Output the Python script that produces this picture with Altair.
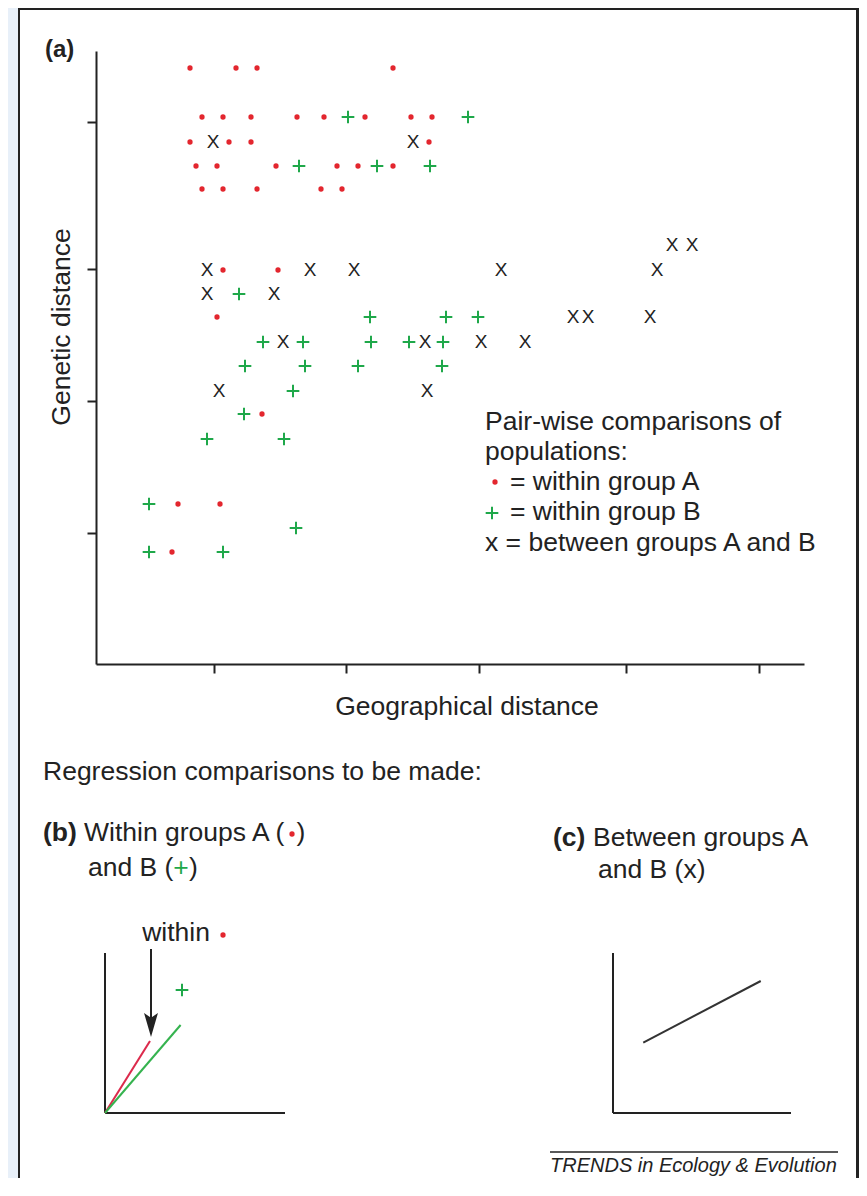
import altair as alt
import pandas as pd

# ---------------- data (arbitrary distance units) ----------------
# within group A (red dots)
red_geo = [94, 140, 161, 297,
           106, 127, 155, 201, 228, 269, 315, 336,
           94, 133, 155, 333,
           100, 121, 180, 241, 262, 297,
           106, 127, 161, 225, 246,
           127, 182, 121, 166, 82, 124, 76]
red_gen = [596, 596, 596, 596,
           547, 547, 547, 547, 547, 547, 547, 547,
           522, 522, 522, 522,
           498, 498, 498, 498, 498, 498,
           475, 475, 475, 475, 475,
           394, 394, 347, 250, 160, 160, 112]

# within group B (green plus)
green_geo = [252, 372, 203, 281, 334, 143, 274, 350, 382,
             167, 207, 275, 313, 347, 149, 209, 262, 346,
             197, 148, 111, 188, 53, 200, 53, 127]
green_gen = [547, 547, 498, 498, 498, 370, 347, 347, 347,
             322, 322, 322, 322, 322, 298, 298, 298, 298,
             273, 250, 225, 225, 160, 136, 112, 112]

# between groups A and B (x)
between_geo = [117, 317, 576, 596, 111, 214, 258, 405, 561,
               111, 178, 477, 492, 554, 187, 329, 385, 429, 123, 331]
between_gen = [522, 522, 419, 419, 394, 394, 394, 394, 394,
               370, 370, 347, 347, 347, 322, 322, 322, 322, 273, 273]

geo_ticks = [118, 250, 383, 530, 663]
gen_ticks = [131, 263, 395, 542]

# schematic regression panels (b) and (c)
panel_b_part = ["axis", "axis", "A", "B"]
panel_b_x0 = [0, 0, 0, 0]
panel_b_y0 = [0, 0, 0, 0]
panel_b_x1 = [10, 0, 2.5, 4.2]
panel_b_y1 = [0, 10, 4.5, 5.5]

panel_c_part = ["axis", "axis", "AB"]
panel_c_x0 = [0, 0, 1.7]
panel_c_y0 = [0, 0, 4.4]
panel_c_x1 = [10, 0, 8.3]
panel_c_y1 = [0, 10, 8.25]

# ---------------- styling ----------------
W, H = 708, 613
FONT = "Liberation Sans"
INK = "#222222"
RED = "#e3262e"
GREEN = "#1fa84a"
LINE_RED = "#dc2a4c"
LINE_GREEN = "#35b34f"
PLUS = "M-1,0L1,0M0,-1L0,1"
ARROW = "M0,1L-0.58,-1L0,-0.6L0.58,-1Z"
FS = 26.5
DOT = 28
EMPTY = alt.Data(values=[{}])

xs = alt.Scale(domain=[0, W], nice=False, zero=False)
ys = alt.Scale(domain=[0, H], nice=False, zero=False)

df_red = pd.DataFrame({"geo": red_geo, "gen": red_gen})
df_green = pd.DataFrame({"geo": green_geo, "gen": green_gen})
df_between = pd.DataFrame({"geo": between_geo, "gen": between_gen})

axis_common = dict(labels=False, grid=False, domainColor=INK, domainWidth=2,
                   tickColor=INK, tickWidth=2, tickSize=9)

red_layer = alt.Chart(df_red).mark_circle(size=DOT, color=RED, opacity=1).encode(
    x=alt.X("geo:Q", scale=xs, title=None,
            axis=alt.Axis(values=geo_ticks, **axis_common)),
    y=alt.Y("gen:Q", scale=ys, title=None,
            axis=alt.Axis(values=gen_ticks, **axis_common)),
)
green_layer = alt.Chart(df_green).mark_point(
    shape=PLUS, filled=False, strokeWidth=2, size=160, color=GREEN, opacity=1
).encode(
    x=alt.X("geo:Q", scale=xs, axis=None),
    y=alt.Y("gen:Q", scale=ys, axis=None),
)
between_layer = alt.Chart(df_between).mark_text(
    text="X", font=FONT, fontSize=19, color=INK, baseline="middle", align="center"
).encode(
    x=alt.X("geo:Q", scale=xs, axis=None),
    y=alt.Y("gen:Q", scale=ys, axis=None),
)

color_scale = alt.Scale(domain=["axis", "A", "B", "AB"],
                        range=[INK, LINE_RED, LINE_GREEN, "#333333"])


def panel(df, xrange):
    return alt.Chart(df).mark_rule(strokeWidth=2).encode(
        x=alt.X("x0:Q", scale=alt.Scale(domain=[0, 10], range=xrange, nice=False, zero=False), axis=None),
        x2="x1:Q",
        y=alt.Y("y0:Q", scale=alt.Scale(domain=[0, 10], range=[1062, 902], nice=False, zero=False), axis=None),
        y2="y1:Q",
        color=alt.Color("part:N", scale=color_scale, legend=None),
    )


panel_b = panel(pd.DataFrame({"part": panel_b_part, "x0": panel_b_x0, "y0": panel_b_y0,
                              "x1": panel_b_x1, "y1": panel_b_y1}), [9, 189])
panel_c = panel(pd.DataFrame({"part": panel_c_part, "x0": panel_c_x0, "y0": panel_c_y0,
                              "x1": panel_c_x1, "y1": panel_c_y1}), [517, 695])


def label(text, x, y, size=FS, weight="normal", style="normal", align="left",
          baseline="middle", color=INK, angle=0):
    return alt.Chart(EMPTY).mark_text(
        text=text, font=FONT, fontSize=size, fontWeight=weight, fontStyle=style,
        align=align, baseline=baseline, color=color, angle=angle
    ).encode(x=alt.value(x), y=alt.value(y))


def hline(x1, x2, y, w, color=INK):
    return alt.Chart(EMPTY).mark_rule(strokeWidth=w, color=color).encode(
        x=alt.value(x1), x2=alt.value(x2), y=alt.value(y))


def vline(x, y1, y2, w, color=INK):
    return alt.Chart(EMPTY).mark_rule(strokeWidth=w, color=color).encode(
        x=alt.value(x), y=alt.value(y1), y2=alt.value(y2))


def dot(x, y):
    return alt.Chart(EMPTY).mark_circle(size=DOT, color=RED, opacity=1).encode(
        x=alt.value(x), y=alt.value(y))


def plus(x, y):
    return alt.Chart(EMPTY).mark_point(shape=PLUS, filled=False, strokeWidth=2, size=160,
                                       color=GREEN, opacity=1).encode(x=alt.value(x), y=alt.value(y))


strip = alt.Chart(EMPTY).mark_rect(color="#e8f0f9").encode(
    x=alt.value(-88), x2=alt.value(-78), y=alt.value(-43), y2=alt.value(1127))

arrow_head = alt.Chart(EMPTY).mark_point(shape=ARROW, filled=True, size=576, color=INK,
                                         opacity=1).encode(x=alt.value(55), y=alt.value(974))

layers = [
    strip,
    hline(-78, 763, -42, 2.2),
    vline(-77, -43, 1127, 2),
    vline(761.5, -43, 1127, 3),
    red_layer, green_layer, between_layer,
    panel_b, panel_c,
    # panel (a)
    label("(a)", -51, -1, size=24, weight="bold"),
    label("Genetic distance", -34, 276, align="center", angle=270),
    label("Geographical distance", 371, 656, align="center"),
    label("Pair-wise comparisons of", 389, 379, baseline="alphabetic"),
    label("populations:", 389, 409, baseline="alphabetic"),
    dot(399, 431),
    label("= within group A", 414, 439, baseline="alphabetic"),
    plus(396, 462),
    label("= within group B", 414, 469, baseline="alphabetic"),
    label("x = between groups A and B", 389, 500, baseline="alphabetic"),
    # lower text
    label("Regression comparisons to be made:", -53, 721),
    label("(b)", -53, 782, weight="bold"),
    label("Within groups A (", -12, 782),
    dot(196, 783),
    label(")", 200.5, 782),
    label("and B (", -8, 817),
    label("+", 85, 817, align="center", color=GREEN),
    label(")", 93, 817),
    label("(c)", 457, 787, weight="bold"),
    label("Between groups A", 497, 787),
    label("and B (x)", 502, 819),
    # panel (b) annotation
    label("within", 80, 882, align="center"),
    dot(127, 884),
    plus(86, 939),
    vline(55, 898, 969, 2),
    arrow_head,
    # footer
    hline(454, 742, 1101, 1.5),
    label("TRENDS in Ecology & Evolution", 454, 1121, size=20, style="italic",
          baseline="alphabetic"),
]

chart = alt.layer(*layers).resolve_scale(
    x="independent", y="independent"
).properties(
    width=W, height=H,
    padding={"left": 88, "top": 43, "right": 55, "bottom": 514},
    autosize=alt.AutoSizeParams(type="none"),
).configure_view(stroke="transparent")

chart.save("out.html", embed_options={"renderer": "svg", "actions": False})
